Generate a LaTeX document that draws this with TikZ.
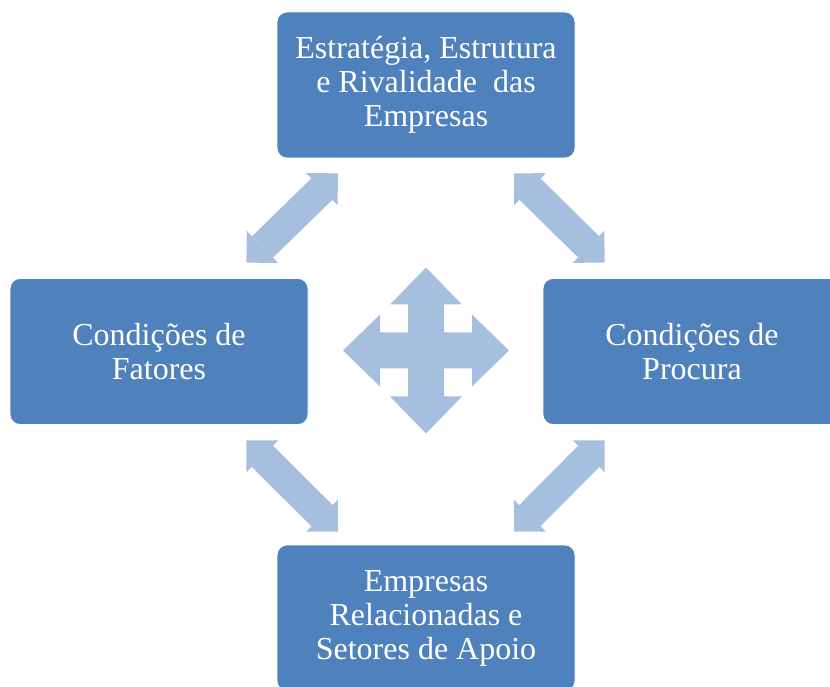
\documentclass[tikz,border=0pt]{standalone}
\usepackage{fontspec}
\setmainfont{Liberation Serif}
\usepackage{xcolor}
\usetikzlibrary{arrows.meta,positioning}
\definecolor{boxblue}{HTML}{4F81BD}
\definecolor{arrowblue}{HTML}{A7BFDE}

\begin{document}
\begin{tikzpicture}[x=1pt,y=1pt,
	forca/.style={rectangle,rounded corners=10pt,fill=boxblue,draw=white,line width=0.8pt,minimum width=298pt,minimum height=146pt,inner sep=0pt,text=white,align=center,font=\fontsize{32}{34}\selectfont},
	seta/.style={arrowblue,line width=30pt,{Triangle[length=22.5pt,width=45pt,line width=0pt]}-{Triangle[length=22.5pt,width=45pt,line width=0pt]}}]
	\useasboundingbox (0,0) rectangle (830,686);
	\clip (0,0) rectangle (830,686);

	\node[forca] (estrategia) at (426,601) {Estratégia, Estrutura\\e Rivalidade~ das\\Empresas};
	\node[forca] (fatores) at (159,334.5) {Condições de\\Fatores};
	\node[forca] (procura) at (692,334.5) {Condições de\\Procura};
	\node[forca] (apoio) at (426,68) {Empresas\\Relacionadas e\\Setores de Apoio};

	\draw[seta] ([shift={(-88,-15)}]estrategia.south) -- ([shift={(-62,15.5)}]fatores.north east);
	\draw[seta] ([shift={(88,-15)}]estrategia.south) -- ([shift={(62,15.5)}]procura.north west);
	\draw[seta] ([shift={(-62,-15.5)}]fatores.south east) -- ([shift={(-88,13)}]apoio.north);
	\draw[seta] ([shift={(62,-15.5)}]procura.south west) -- ([shift={(88,13)}]apoio.north);

	% seta de quatro pontas no meio
	\coordinate (centro) at (426,335.5);
	\foreach \r in {0,90,180,270}
		\fill[arrowblue,shift={(centro)},rotate=\r] (-18,-18) -- (-18,46) -- (-36,46) -- (0,83) -- (36,46) -- (18,46) -- (18,-18) -- cycle;
\end{tikzpicture}
\end{document}
